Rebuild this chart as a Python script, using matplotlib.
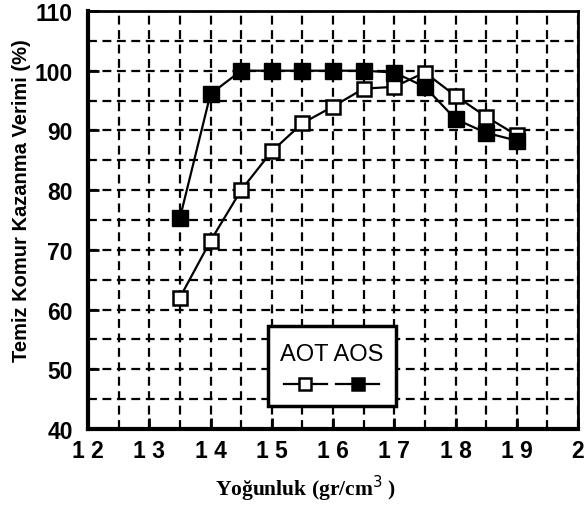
import matplotlib
matplotlib.use("Agg")
import matplotlib.pyplot as plt
from matplotlib.lines import Line2D
from matplotlib.patches import Rectangle
import numpy as np

# Data
density = [1.35, 1.40, 1.45, 1.50, 1.55, 1.60, 1.65, 1.70, 1.75, 1.80, 1.85, 1.90]
aot = [62.0, 71.5, 80.0, 86.5, 91.2, 94.0, 97.0, 97.3, 99.7, 95.8, 92.3, 89.2]
aos = [75.3, 96.1, 100.0, 100.0, 100.0, 100.0, 100.0, 99.7, 97.3, 91.9, 89.6, 88.3]
xtick_vals = [1.2, 1.3, 1.4, 1.5, 1.6, 1.7, 1.8, 1.9, 2.0]
xtick_labels = ["1 2", "1 3", "1 4", "1 5", "1 6", "1 7", "1 8", "1 9", "2"]
ytick_vals = [40, 50, 60, 70, 80, 90, 100, 110]
ytick_labels = ["40", "50", "60", "70", "80", "90", "100", "110"]

sans = ['Liberation Sans Narrow', 'Liberation Sans', 'DejaVu Sans']

fig = plt.figure(figsize=(5.84, 5.06), dpi=100)
ax = fig.add_axes([88/584, 1-430/506, (578-88)/584, (430-12)/506])

ax.set_xlim(1.2, 2.0)
ax.set_ylim(40, 110)

# dashed grid every 0.05 / 5
ax.set_xticks(np.arange(1.25, 2.0, 0.05), minor=True)
ax.set_yticks(np.arange(45, 110, 5), minor=True)
ax.set_xticks(xtick_vals)
ax.set_yticks(ytick_vals)
ax.set_xticklabels(xtick_labels, family=sans, fontsize=16.5, fontweight='bold')
ax.set_yticklabels(ytick_labels, family=sans, fontsize=16.5, fontweight='bold')
ax.grid(True, which='both', color='black', linestyle=(0, (4, 2.5)), linewidth=1.6)
ax.tick_params(which='major', direction='in', length=8, width=2)
ax.tick_params(axis='x', which='major', pad=7)
ax.tick_params(axis='y', which='major', pad=11)
ax.tick_params(which='minor', length=0)
ax.set_axisbelow(True)

for side, lw in [('left', 3), ('bottom', 3), ('top', 2), ('right', 2)]:
    ax.spines[side].set_linewidth(lw)
    ax.spines[side].set_color('black')

ax.plot(density, aot, color='black', linewidth=1.6, marker='s', markersize=10,
        markerfacecolor='white', markeredgecolor='black', markeredgewidth=1.8, zorder=3)
ax.plot(density, aos, color='black', linewidth=1.6, marker='s', markersize=11,
        markerfacecolor='black', markeredgecolor='black', zorder=4)

# legend box
lx0, ly0 = (268-88)/490, (430-407)/418
lw_, lh_ = (396-268)/490, (407-327)/418
ax.add_patch(Rectangle((lx0, ly0), lw_, lh_, transform=ax.transAxes, facecolor='white',
                       edgecolor='black', linewidth=2.5, zorder=5))
ax.text(lx0 + lw_*0.5, ly0 + lh_*0.65, "AOT AOS", transform=ax.transAxes, ha='center',
        va='center', family=sans, fontsize=17, zorder=6)
for cx, fc in [(lx0 + lw_*0.29, 'white'), (lx0 + lw_*0.70, 'black')]:
    ax.add_line(Line2D([cx - 0.044, cx + 0.044], [ly0 + lh_*0.275]*2, transform=ax.transAxes,
                       color='black', linewidth=1.6, zorder=6))
    ax.add_line(Line2D([cx], [ly0 + lh_*0.275], transform=ax.transAxes, marker='s',
                       markersize=9, markerfacecolor=fc, markeredgecolor='black',
                       markeredgewidth=1.8, zorder=7))

fig.text(22/584, 1-201/506, "Temiz Komur Kazanma Verimi (%)", rotation=90, ha='center',
         va='center', family=['Liberation Sans', 'DejaVu Sans'], fontsize=14.5, fontweight='bold')
fig.text(306/584, 1-489/506, "Yoğunluk (gr/cm$^3$ )", ha='center', va='center',
         family=['Liberation Serif', 'DejaVu Serif'], fontsize=15.5, fontweight='bold')

fig.savefig("out.png", dpi=100)
